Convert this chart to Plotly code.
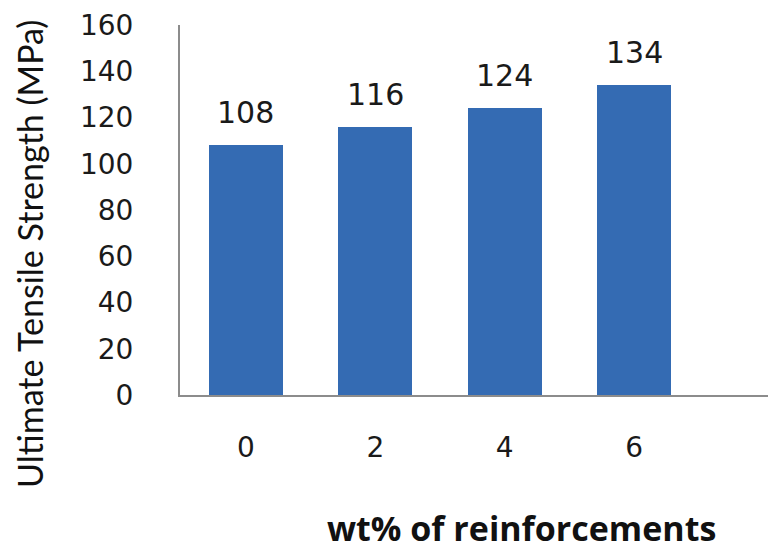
import plotly.graph_objects as go

# Tensile strength vs. reinforcement content
wt_percent = [0, 2, 4, 6]
uts_mpa = [108, 116, 124, 134]
y_ticks = [0, 20, 40, 60, 80, 100, 120, 140, 160]

bar_color = "#346bb3"
axis_color = "#8c8c8c"
num_font = dict(family="DejaVu Sans", size=28, color="#1a1a1a")

fig = go.Figure()
fig.add_trace(go.Bar(
    x=wt_percent,
    y=uts_mpa,
    width=1.14,
    marker=dict(color=bar_color, line=dict(width=0)),
    showlegend=False,
    hoverinfo="x+y",
))

# value labels above each bar
for xv, yv in zip(wt_percent, uts_mpa):
    fig.add_annotation(
        x=xv, y=yv, text=str(yv), showarrow=False,
        xanchor="center", yanchor="bottom", yshift=13,
        font=dict(family="DejaVu Sans", size=30, color="#1a1a1a"),
    )

# axis titles
fig.add_annotation(
    xref="paper", yref="paper", x=-0.257, y=0.381,
    text="Ultimate Tensile Strength (MPa)", textangle=-90, showarrow=False,
    xanchor="center", yanchor="middle",
    font=dict(family="Lato", size=34, color="#111111"),
)
fig.add_annotation(
    xref="paper", yref="paper", x=0.580, y=-0.360,
    text="wt% of reinforcements", showarrow=False,
    xanchor="center", yanchor="middle",
    font=dict(family="Open Sans", size=34, color="#111111", weight="bold"),
)

fig.update_layout(
    width=768, height=550,
    margin=dict(l=180, r=0, t=25, b=155),
    paper_bgcolor="white", plot_bgcolor="white",
    bargap=0,
)
fig.update_xaxes(
    range=[-1.02, 8.07],
    tickvals=wt_percent, ticktext=[str(v) for v in wt_percent],
    showline=True, linecolor=axis_color, linewidth=2,
    showgrid=False, zeroline=False, ticks="",
    ticklabelstandoff=26,
    tickfont=num_font,
)
fig.update_yaxes(
    range=[0, 160],
    tickvals=y_ticks,
    showline=True, linecolor=axis_color, linewidth=2,
    showgrid=False, zeroline=False, ticks="",
    ticklabelstandoff=39,
    tickfont=num_font,
)

fig.write_html("out.html")
